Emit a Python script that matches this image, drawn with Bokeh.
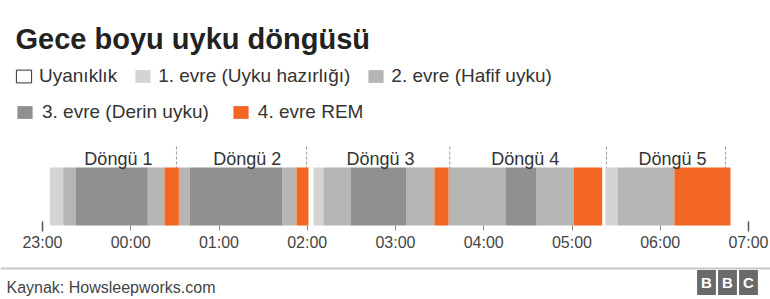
from bokeh.plotting import figure
from bokeh.models import (Range1d, LinearAxis, FixedTicker, Legend, LegendItem,
                          Label, Span, ColumnDataSource)
from bokeh.embed import file_html
from bokeh.resources import INLINE
from bokeh.core.properties import value

# ---------------- data (hours after 23:00) ----------------
seg_start = [0.083, 0.235, 0.374, 1.193, 1.382, 1.545, 1.669, 2.716, 2.878, 3.014,
             3.071, 3.184, 3.490, 4.121, 4.442, 4.601, 5.246, 5.598, 6.020, 6.342,
             6.380, 6.516, 7.161]
seg_end = [0.235, 0.374, 1.193, 1.382, 1.545, 1.669, 2.716, 2.878, 3.014, 3.071,
           3.184, 3.490, 4.121, 4.442, 4.601, 5.246, 5.598, 6.020, 6.342, 6.380,
           6.516, 7.161, 7.796]
seg_stage = ["s1", "s2", "s3", "s2", "rem", "s2", "s3", "s2", "rem", "wake",
             "s1", "s2", "s3", "s2", "rem", "s2", "s3", "s2", "rem", "wake",
             "s1", "s2", "rem"]

stage_keys = ["wake", "s1", "s2", "s3", "rem"]
stage_labels = ["Uyanıklık", "1. evre (Uyku hazırlığı)", "2. evre (Hafif uyku)",
                "3. evre (Derin uyku)", "4. evre REM"]
stage_colors = ["#ffffff", "#d4d4d2", "#b5b5b3", "#90908e", "#f26522"]

cycle_ends = [1.518, 2.992, 4.615, 6.391, 7.740]
cycle_names = ["Döngü 1", "Döngü 2", "Döngü 3", "Döngü 4", "Döngü 5"]
cycle_label_x = [0.86, 2.32, 3.83, 5.47, 7.14]

tick_hours = [0, 1, 2, 3, 4, 5, 6, 7, 8]
tick_labels = ["23:00", "00:00", "01:00", "02:00", "03:00", "04:00", "05:00", "06:00", "07:00"]

title_text = "Gece boyu uyku döngüsü"
source_text = "Kaynak: Howsleepworks.com"
logo_letters = ["B", "B", "C"]

# ---------------- layout constants ----------------
W, H = 770, 299
X0_PX = 42.0          # pixel of 23:00
PX_PER_HOUR = 88.25
FONT = "Liberation Sans"
BAR_TOP, BAR_BOTTOM = 167, 225

p = figure(width=W, height=H,
           x_range=Range1d(-X0_PX / PX_PER_HOUR, (W - X0_PX) / PX_PER_HOUR),
           y_range=Range1d(H, 0),
           x_axis_type=None, y_axis_type=None,
           output_backend="svg", toolbar_location=None, min_border=0)
p.outline_line_color = None
p.background_fill_color = "white"
p.border_fill_color = "white"

# cycle boundary dashed lines (under bars)
p.segment(x0=cycle_ends, x1=cycle_ends, y0=146, y1=BAR_BOTTOM,
          line_color="#9a9a9a", line_dash="3 2", line_width=1)

renderers = {}
for key, color in zip(stage_keys, stage_colors):
    lefts = [s for s, st in zip(seg_start, seg_stage) if st == key]
    rights = [e for e, st in zip(seg_end, seg_stage) if st == key]
    src = ColumnDataSource(dict(left=lefts, right=rights))
    renderers[key] = p.quad(left="left", right="right", top=BAR_TOP, bottom=BAR_BOTTOM,
                            source=src, fill_color=color, line_color=None)

# legend proxy for "wake" (white square with a dark border)
nan = float("nan")
wake_proxy = p.quad(left=[nan], right=[nan], top=[nan], bottom=[nan],
                    fill_color="white", line_color="#333333", line_width=1)
legend_renderers = [wake_proxy, renderers["s1"], renderers["s2"], renderers["s3"], renderers["rem"]]

# cycle labels
p.text(x=cycle_label_x, y=158, text=cycle_names, text_align="center",
       text_baseline="alphabetic", text_font=value(FONT), text_font_size="18px",
       text_color="#333333")

# time axis
ax = LinearAxis(fixed_location=BAR_BOTTOM, ticker=FixedTicker(ticks=tick_hours),
                major_label_overrides={h: l for h, l in zip(tick_hours, tick_labels)},
                axis_line_color=None, major_tick_in=0, major_tick_out=5,
                major_tick_line_color="#888888", minor_tick_line_color=None,
                major_label_text_font=FONT, major_label_text_font_size="16px",
                major_label_text_color="#444444", major_label_standoff=3)
p.add_layout(ax, "below")
ax_end = LinearAxis(fixed_location=BAR_BOTTOM, ticker=FixedTicker(ticks=[tick_hours[0], tick_hours[-1]]),
                    major_label_overrides={tick_hours[0]: "", tick_hours[-1]: ""},
                    axis_line_color=None, major_tick_in=4, major_tick_out=6,
                    major_tick_line_color="#555555", major_tick_line_width=1.5,
                    minor_tick_line_color=None)
p.add_layout(ax_end, "below")

# legends
common = dict(orientation="horizontal", background_fill_alpha=0, border_line_color=None,
              padding=0, margin=0, glyph_width=19, glyph_height=16,
              label_text_font=FONT, label_text_font_size="19px", label_text_color="#333333")
leg1 = Legend(items=[LegendItem(label=stage_labels[i], renderers=[legend_renderers[i]]) for i in range(3)],
              location=(14, 212), spacing=16, label_standoff=6, **common)
leg2 = Legend(items=[LegendItem(label=stage_labels[i], renderers=[legend_renderers[i]]) for i in range(3, 5)],
              location=(15, 176), spacing=22, label_standoff=8, **common)
p.add_layout(leg1)
p.add_layout(leg2)

# title
p.add_layout(Label(x=15, y=38, x_units="screen", text=title_text, text_font=FONT,
                   text_font_style="bold", text_font_size="29px", text_color="#222222",
                   text_baseline="alphabetic"))

# footer
p.add_layout(Span(location=268, dimension="width", line_color="#c8c8c8", line_width=2))
p.add_layout(Label(x=6, y=287, x_units="screen", text=source_text, text_font=FONT,
                   text_font_size="16px", text_color="#444444", text_baseline="alphabetic"))
for i, letter in enumerate(logo_letters):
    p.add_layout(Label(x=706 + 21 * i, y=282, x_units="screen", text=letter, text_font=FONT,
                       text_font_style="bold", text_font_size="15px", text_color="white",
                       text_align="center", text_baseline="middle",
                       background_fill_color="#6a6a6a", padding=4))

open("out.html", "w").write(file_html(p, INLINE))
